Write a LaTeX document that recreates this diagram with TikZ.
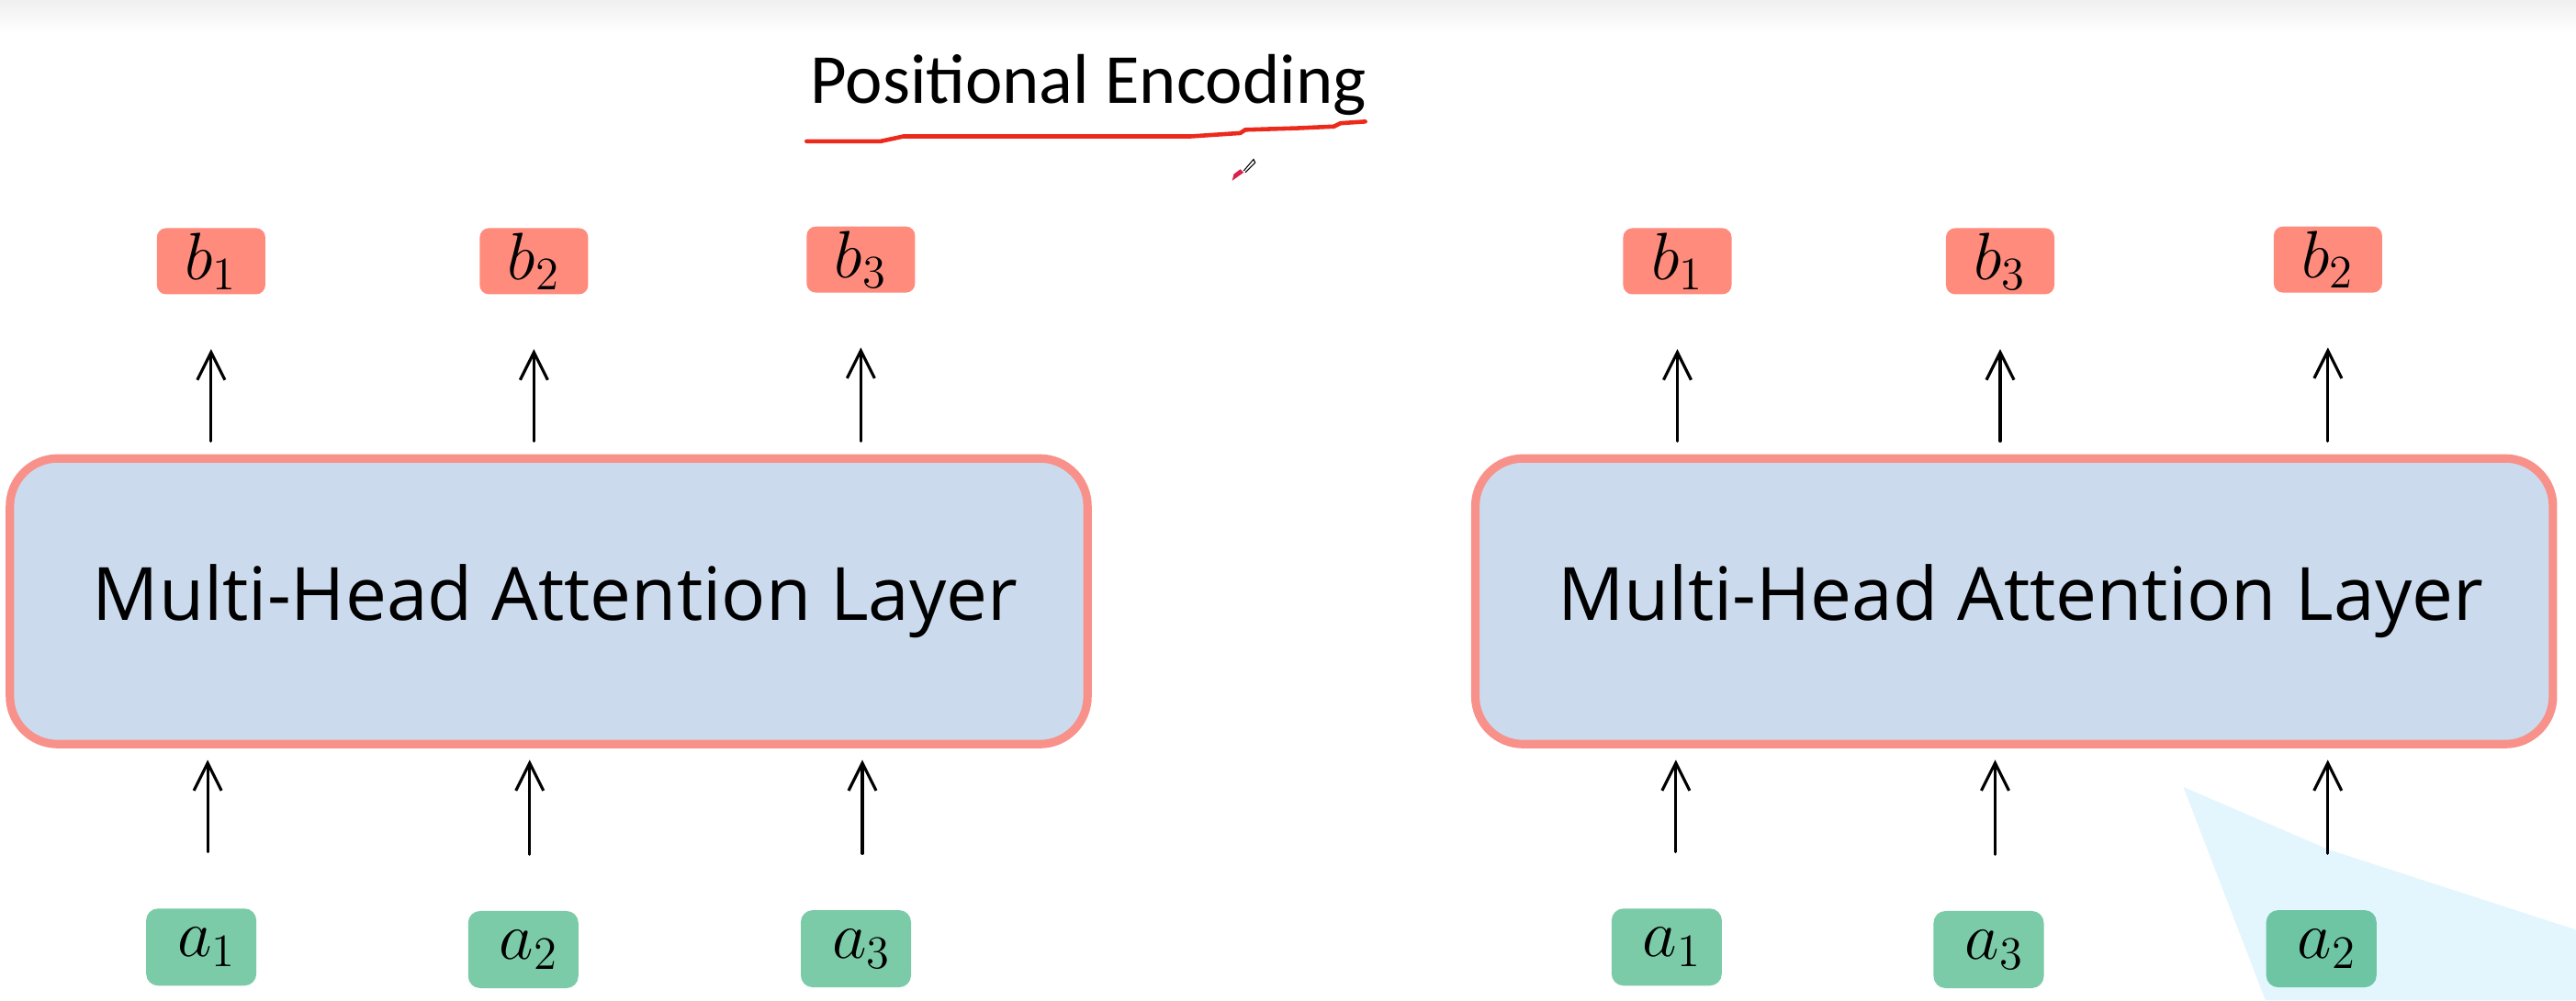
\documentclass[tikz,border=0pt]{standalone}
\usepackage{fontspec}
\setmainfont{Carlito}
\newfontfamily\layerfont{Open Sans}
\usetikzlibrary{arrows.meta}
\definecolor{layerfill}{HTML}{CBDBED}
\definecolor{layerline}{HTML}{F8918A}
\definecolor{outbox}{HTML}{FF8B7D}
\definecolor{inbox}{HTML}{7BCBA8}
\definecolor{inboxdeep}{HTML}{6DC5A4}
\definecolor{wedge}{HTML}{E3F5FD}
\definecolor{inkred}{HTML}{EC2A1C}
\definecolor{pentip}{HTML}{D8224E}
\newcommand{\layertext}{\hspace{.14cm}\raisebox{-.09cm}{Multi-Head Attention Layer}}
\tikzset{
	layerbox/.style = {draw = layerline, fill = layerfill, line width = 2.6pt, rounded corners = .52cm, minimum width = 11.73cm, minimum height = 3.11cm, inner sep = 0pt, font = \layerfont\fontsize{22.8}{27}\selectfont},
	outnode/.style = {fill = outbox, rounded corners = .1cm, minimum width = 1.18cm, minimum height = .72cm, inner sep = 0pt, font = \fontsize{22}{24}\selectfont},
	innode/.style = {fill = inbox, rounded corners = .13cm, minimum width = 1.2cm, minimum height = .84cm, inner sep = 0pt, font = \fontsize{22}{24}\selectfont},
	uparrow/.style = {-{Straight Barb[length = .3cm, width = .3cm]}, line width = .9pt, line cap = round},
	outarrow/.style = {uparrow, shorten < = .143cm, shorten > = .59cm},
	inarrow/.style = {uparrow, shorten < = .61cm, shorten > = .125cm}
}
\begin{document}
\begin{tikzpicture}[x = .017889cm, y = -.017889cm]
	\useasboundingbox (0, 0) rectangle (1568, 609);

	\shade[top color = black!6, bottom color = white] (0, 0) rectangle (1568, 20);
	\fill[wedge] (1329, 479) -- (1417, 517) -- (1568, 566) -- (1568, 609) -- (1379, 609) -- cycle;

	\node[font = \fontsize{21.8}{26}\selectfont, anchor = base] (title) at (662.5, 63) {Positional Encoding};
	\draw[inkred, line width = 1.3pt, line cap = round, line join = round] (491, 86) -- (536, 86) -- (550, 83) -- (725, 83) -- (755, 81) -- (758, 79) -- (790, 78) -- (812, 77) -- (816, 75) -- (831, 74);

	% pen cursor
	\draw[black, line width = .3pt] (757, 104) -- (763, 97) -- (764, 99) -- (758, 105);
	\fill[pentip] (750, 110) -- (751, 106) -- (755, 103) -- (757, 105) -- cycle;

	\node[layerbox] (layerl) at (334, 366) {\layertext};
	\node[layerbox] (layerr) at (1226, 366) {\layertext};

	\node[outnode] (b1l) at (128.5, 159) {$b_1$};
	\node[outnode] (b2l) at (325, 159) {$b_2$};
	\node[outnode] (b3l) at (524, 158) {$b_3$};
	\node[outnode] (b1r) at (1021, 159) {$b_1$};
	\node[outnode] (b3r) at (1217.5, 159) {$b_3$};
	\node[outnode] (b2r) at (1417, 158) {$b_2$};

	\node[innode] (a1l) at (122.5, 576.5) {\raisebox{-.06cm}{$\,a_1$}};
	\node[innode] (a2l) at (318.5, 578) {\raisebox{-.06cm}{$\,a_2$}};
	\node[innode] (a3l) at (521, 577.5) {\raisebox{-.06cm}{$\,a_3$}};
	\node[innode] (a1r) at (1014.5, 576.5) {\raisebox{-.06cm}{$\,a_1$}};
	\node[innode] (a3r) at (1210.5, 578) {\raisebox{-.06cm}{$\,a_3$}};
	\node[innode, fill = inboxdeep] (a2r) at (1413, 577.5) {\raisebox{-.06cm}{$\,a_2$}};

	\draw[outarrow] (b1l.south |- layerl.north) -- (b1l.south);
	\draw[outarrow] (b2l.south |- layerl.north) -- (b2l.south);
	\draw[outarrow] (b3l.south |- layerl.north) -- (b3l.south);
	\draw[outarrow] (b1r.south |- layerr.north) -- (b1r.south);
	\draw[outarrow] (b3r.south |- layerr.north) -- (b3r.south);
	\draw[outarrow] (b2r.south |- layerr.north) -- (b2r.south);

	\draw[inarrow] ([xshift = .07cm]a1l.north) -- ([xshift = .07cm]a1l.north |- layerl.south);
	\draw[inarrow] ([xshift = .07cm]a2l.north) -- ([xshift = .07cm]a2l.north |- layerl.south);
	\draw[inarrow] ([xshift = .07cm]a3l.north) -- ([xshift = .07cm]a3l.north |- layerl.south);
	\draw[inarrow] ([xshift = .1cm]a1r.north) -- ([xshift = .1cm]a1r.north |- layerr.south);
	\draw[inarrow] ([xshift = .07cm]a3r.north) -- ([xshift = .07cm]a3r.north |- layerr.south);
	\draw[inarrow] ([xshift = .07cm]a2r.north) -- ([xshift = .07cm]a2r.north |- layerr.south);
\end{tikzpicture}
\end{document}
